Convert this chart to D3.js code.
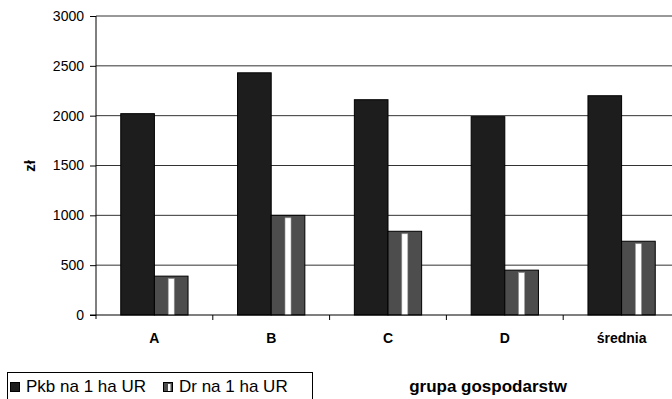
<!DOCTYPE html>
<html>
<head>
<meta charset="utf-8">
<script src="https://cdn.jsdelivr.net/npm/d3@7"></script>
<style>
  html, body { margin: 0; padding: 0; background: #fff; }
  svg { display: block; font-family: "Liberation Sans", Arial, sans-serif; }
</style>
</head>
<body>
<svg id="chart" width="672" height="399"></svg>
<script>
// ---- data ----
const categories = ["A", "B", "C", "D", "średnia"];
const pkbValues = [2020, 2430, 2160, 1990, 2200];
const drValues = [390, 1000, 840, 450, 740];
const yTickValues = [0, 500, 1000, 1500, 2000, 2500, 3000];
const seriesNames = ["Pkb na 1 ha UR", "Dr na 1 ha UR"];
const yTitle = "zł";
const xTitle = "grupa gospodarstw";

// ---- layout ----
const svg = d3.select("#chart");
const plotLeft = 96, plotRight = 680, plotTop = 16, plotBottom = 315;

const x = d3.scaleBand().domain(categories).range([plotLeft, plotRight]).padding(0);
const y = d3.scaleLinear().domain([0, 3000]).range([plotBottom, plotTop]);

const bw = x.bandwidth();
const barW = bw * 0.288;
const groupOff = (bw - 2 * barW) / 2;

// gridlines
svg.append("g").selectAll("line").data(yTickValues.filter(d => d > 0)).join("line")
  .attr("x1", plotLeft).attr("x2", 672)
  .attr("y1", d => y(d)).attr("y2", d => y(d))
  .attr("stroke", "#333").attr("stroke-width", 1);

// bars Pkb
svg.append("g").selectAll("rect").data(categories).join("rect")
  .attr("x", d => x(d) + groupOff)
  .attr("y", (d, i) => y(pkbValues[i]))
  .attr("width", barW)
  .attr("height", (d, i) => y(0) - y(pkbValues[i]))
  .attr("fill", "#1d1d1d").attr("stroke", "#000").attr("stroke-width", 1);

// bars Dr
const drG = svg.append("g");
drG.selectAll("rect.dr").data(categories).join("rect").attr("class", "dr")
  .attr("x", d => x(d) + groupOff + barW)
  .attr("y", (d, i) => y(drValues[i]))
  .attr("width", barW)
  .attr("height", (d, i) => y(0) - y(drValues[i]))
  .attr("fill", "#4d4d4d").attr("stroke", "#000").attr("stroke-width", 1);
drG.selectAll("rect.stripe").data(categories).join("rect").attr("class", "stripe")
  .attr("x", d => x(d) + groupOff + barW * 1.5 - 3)
  .attr("y", (d, i) => y(drValues[i]) + 2.5)
  .attr("width", 6)
  .attr("height", (d, i) => y(0) - y(drValues[i]) - 2.5)
  .attr("fill", "#fff").attr("stroke", "#999").attr("stroke-width", 0.6);

// y axis
const yAxis = d3.axisLeft(y).tickValues(yTickValues).tickSize(6).tickPadding(6).tickFormat(d3.format("d"));
const yg = svg.append("g").attr("transform", `translate(${plotLeft},0)`).call(yAxis);
yg.select(".domain").remove();
yg.selectAll(".tick line").attr("stroke", "#000");
yg.selectAll(".tick text").attr("font-size", 14).attr("fill", "#000")
  .attr("font-family", "'Liberation Sans', Arial, sans-serif");
svg.append("line").attr("x1", plotLeft).attr("x2", plotLeft).attr("y1", plotTop).attr("y2", plotBottom + 4)
  .attr("stroke", "#000").attr("stroke-width", 1);

// x axis
svg.append("line").attr("x1", plotLeft - 6).attr("x2", 672).attr("y1", plotBottom).attr("y2", plotBottom)
  .attr("stroke", "#000").attr("stroke-width", 1.2);
svg.append("g").selectAll("line").data(categories.slice(1)).join("line")
  .attr("x1", d => x(d)).attr("x2", d => x(d))
  .attr("y1", plotBottom).attr("y2", plotBottom + 5)
  .attr("stroke", "#000");
svg.append("g").selectAll("text").data(categories).join("text")
  .attr("x", d => x(d) + bw / 2)
  .attr("y", 343)
  .attr("text-anchor", "middle")
  .attr("font-size", 14).attr("font-weight", "bold")
  .text(d => d);

// axis titles
svg.append("text")
  .attr("transform", "translate(35,166) rotate(-90)")
  .attr("text-anchor", "middle")
  .attr("font-size", 15).attr("font-weight", "bold")
  .text(yTitle);
svg.append("text")
  .attr("x", 488).attr("y", 392)
  .attr("text-anchor", "middle")
  .attr("font-size", 17).attr("font-weight", "bold")
  .text(xTitle);

// legend
const lg = svg.append("g");
lg.append("rect").attr("x", 7.5).attr("y", 372.5).attr("width", 305).attr("height", 40)
  .attr("fill", "none").attr("stroke", "#000").attr("stroke-width", 1);
const legendX = [10, 163];
seriesNames.forEach((name, i) => {
  const mx = legendX[i];
  lg.append("rect").attr("x", mx + 0.5).attr("y", 382.5).attr("width", 9).attr("height", 9)
    .attr("fill", i === 0 ? "#1d1d1d" : "#4d4d4d").attr("stroke", "#000").attr("stroke-width", 1);
  if (i === 1) {
    lg.append("rect").attr("x", mx + 5).attr("y", 384).attr("width", 2.5).attr("height", 7)
      .attr("fill", "#fff");
  }
  lg.append("text").attr("x", mx + 16).attr("y", 392)
    .attr("font-size", 17).attr("fill", "#000").text(name);
});
</script>
</body>
</html>
